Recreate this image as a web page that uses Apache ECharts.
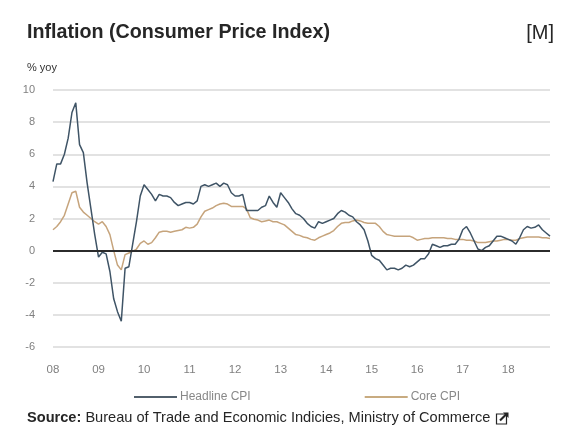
<!DOCTYPE html>
<html>
<head>
<meta charset="utf-8">
<script src="https://cdn.jsdelivr.net/npm/echarts@6/dist/echarts.min.js"></script>
<style>
html,body{margin:0;padding:0;background:#fff;}
#chart{width:566px;height:439px;}
</style>
</head>
<body>
<div id="chart"></div>
<script>
// Year tick labels (January of each year)
var yearLabels = ['08','09','10','11','12','13','14','15','16','17','18'];

// Monthly values, Jan 2008 - Dec 2018 (% yoy)
var headlineCPI = [
  4.3, 5.4, 5.4, 6.0, 7.0, 8.6, 9.2, 6.6, 6.1, 4.2, 2.6, 1.0,
  -0.4, -0.1, -0.2, -1.3, -3.0, -3.8, -4.4, -1.1, -1.0, 0.4, 1.8, 3.4,
  4.1, 3.8, 3.5, 3.1, 3.5, 3.4, 3.4, 3.3, 3.0, 2.8, 2.9, 3.0,
  3.0, 2.9, 3.1, 4.0, 4.1, 4.0, 4.1, 4.2, 4.0, 4.2, 4.1, 3.6,
  3.4, 3.4, 3.5, 2.5, 2.5, 2.5, 2.5, 2.7, 2.8, 3.4, 3.0, 2.7,
  3.6, 3.3, 3.0, 2.6, 2.3, 2.2, 2.0, 1.7, 1.5, 1.4, 1.8, 1.7,
  1.8, 1.9, 2.0, 2.3, 2.5, 2.4, 2.2, 2.1, 1.8, 1.6, 1.3, 0.6,
  -0.3, -0.5, -0.6, -0.9, -1.2, -1.1, -1.1, -1.2, -1.1, -0.9, -1.0, -0.9,
  -0.7, -0.5, -0.5, -0.2, 0.4, 0.3, 0.2, 0.3, 0.3, 0.4, 0.4, 0.7,
  1.3, 1.5, 1.1, 0.6, 0.1, 0.0, 0.2, 0.3, 0.6, 0.9, 0.9, 0.8,
  0.7, 0.6, 0.4, 0.8, 1.3, 1.5, 1.4, 1.45, 1.6, 1.3, 1.1, 0.9
];
var coreCPI = [
  1.3, 1.5, 1.8, 2.2, 2.9, 3.6, 3.7, 2.7, 2.4, 2.2, 2.0, 1.8,
  1.65, 1.8, 1.5, 1.0, 0.0, -0.9, -1.2, -0.25, -0.15, -0.05, 0.1, 0.45,
  0.6, 0.4, 0.5, 0.8, 1.15, 1.2, 1.2, 1.15, 1.2, 1.25, 1.3, 1.45,
  1.4, 1.45, 1.65, 2.1, 2.45, 2.55, 2.65, 2.8, 2.9, 2.95, 2.9, 2.75,
  2.75, 2.75, 2.75, 2.6, 2.05, 1.95, 1.9, 1.8, 1.85, 1.9, 1.8, 1.8,
  1.7, 1.6, 1.4, 1.2, 1.0, 0.95, 0.85, 0.8, 0.7, 0.65, 0.8, 0.9,
  1.0, 1.1, 1.25, 1.5, 1.7, 1.75, 1.75, 1.85, 1.9, 1.85, 1.75, 1.7,
  1.7, 1.7, 1.5, 1.2, 1.0, 0.95, 0.9, 0.9, 0.9, 0.9, 0.9, 0.8,
  0.65, 0.7, 0.75, 0.75, 0.8, 0.8, 0.8, 0.8, 0.75, 0.75, 0.7, 0.7,
  0.7, 0.65, 0.65, 0.6, 0.5, 0.5, 0.5, 0.55, 0.6, 0.6, 0.65, 0.7,
  0.7, 0.65, 0.65, 0.75, 0.8, 0.85, 0.85, 0.85, 0.85, 0.8, 0.8, 0.75
];
var seriesNames = ['Headline CPI', 'Core CPI'];

// month categories; January carries the year tick label
var categories = [];
for (var y = 0; y < yearLabels.length; y++) {
  for (var m = 0; m < 12; m++) {
    categories.push(m === 0 ? yearLabels[y] : yearLabels[y] + '-' + (m + 1));
  }
}

var chart = echarts.init(document.getElementById('chart'), null, {renderer: 'canvas'});
var FONT = '"Liberation Sans", Arial, sans-serif';

chart.setOption({
  backgroundColor: '#ffffff',
  animation: false,
  textStyle: {fontFamily: FONT},
  title: [
    {text: 'Inflation (Consumer Price Index)', left: 27, top: 23, padding: 0,
     textStyle: {fontFamily: FONT, fontSize: 19.7, fontWeight: 'bold', color: '#262626'}},
    {text: '[M]', right: 12, top: 23, padding: 0,
     textStyle: {fontFamily: FONT, fontSize: 20, fontWeight: 'normal', color: '#262626'}},
    {text: '% yoy', left: 27, top: 62, padding: 0,
     textStyle: {fontFamily: FONT, fontSize: 11, fontWeight: 'normal', color: '#333'}},
    {text: '{b|Source:} Bureau of Trade and Economic Indicies, Ministry of Commerce', left: 27, top: 410, padding: 0,
     textStyle: {fontFamily: FONT, fontSize: 14.6, fontWeight: 'normal', color: '#262626',
       rich: {b: {fontFamily: FONT, fontSize: 14.6, fontWeight: 'bold', color: '#262626'}}}}
  ],
  legend: {
    data: seriesNames,
    left: 134, top: 391, padding: 0,
    icon: 'rect', itemWidth: 43, itemHeight: 2, itemGap: 114,
    textStyle: {fontFamily: FONT, fontSize: 12, color: '#888', padding: [0, 0, 0, -2]}
  },
  grid: {left: 53, right: 16, top: 90, bottom: 92, containLabel: false},
  xAxis: {
    type: 'category',
    data: categories,
    boundaryGap: false,
    axisLine: {show: false, onZero: false},
    axisTick: {show: false},
    splitLine: {show: false},
    axisLabel: {
      interval: function (idx) { return idx % 12 === 0; },
      formatter: function (v) { return v; },
      margin: 17, fontSize: 11.5, color: '#808080', fontFamily: FONT
    }
  },
  yAxis: {
    type: 'value', min: -6, max: 10, interval: 2,
    axisLine: {show: false}, axisTick: {show: false},
    axisLabel: {margin: 18, fontSize: 11, color: '#808080', fontFamily: FONT},
    splitLine: {lineStyle: {color: '#d9d9d9', width: 1.5}}
  },
  series: [
    {
      name: seriesNames[0], type: 'line', data: headlineCPI,
      symbol: 'none', smooth: false, z: 3,
      lineStyle: {color: '#3f5466', width: 1.5},
      itemStyle: {color: '#52606c'},
      markLine: {
        silent: true, symbol: 'none', label: {show: false},
        lineStyle: {color: '#2b2b2b', width: 2, type: 'solid'},
        data: [{yAxis: 0}]
      }
    },
    {
      name: seriesNames[1], type: 'line', data: coreCPI,
      symbol: 'none', smooth: false, z: 2,
      lineStyle: {color: '#c6a47c', width: 1.5},
      itemStyle: {color: '#c8ab80'}
    }
  ],
  graphic: [
    {type: 'group', left: 494, top: 411, children: [
      {type: 'rect', shape: {x: 0.5, y: 1.5, width: 10, height: 10},
       style: {fill: 'none', stroke: '#262626', lineWidth: 1.2}},
      {type: 'polyline', shape: {points: [[4, 8], [11, 1]]},
       style: {stroke: '#262626', lineWidth: 2.2, fill: 'none'}},
      {type: 'polygon', shape: {points: [[7, 0], [12.5, 0], [12.5, 5.5]]},
       style: {fill: '#262626'}}
    ]}
  ]
});
</script>
</body>
</html>
